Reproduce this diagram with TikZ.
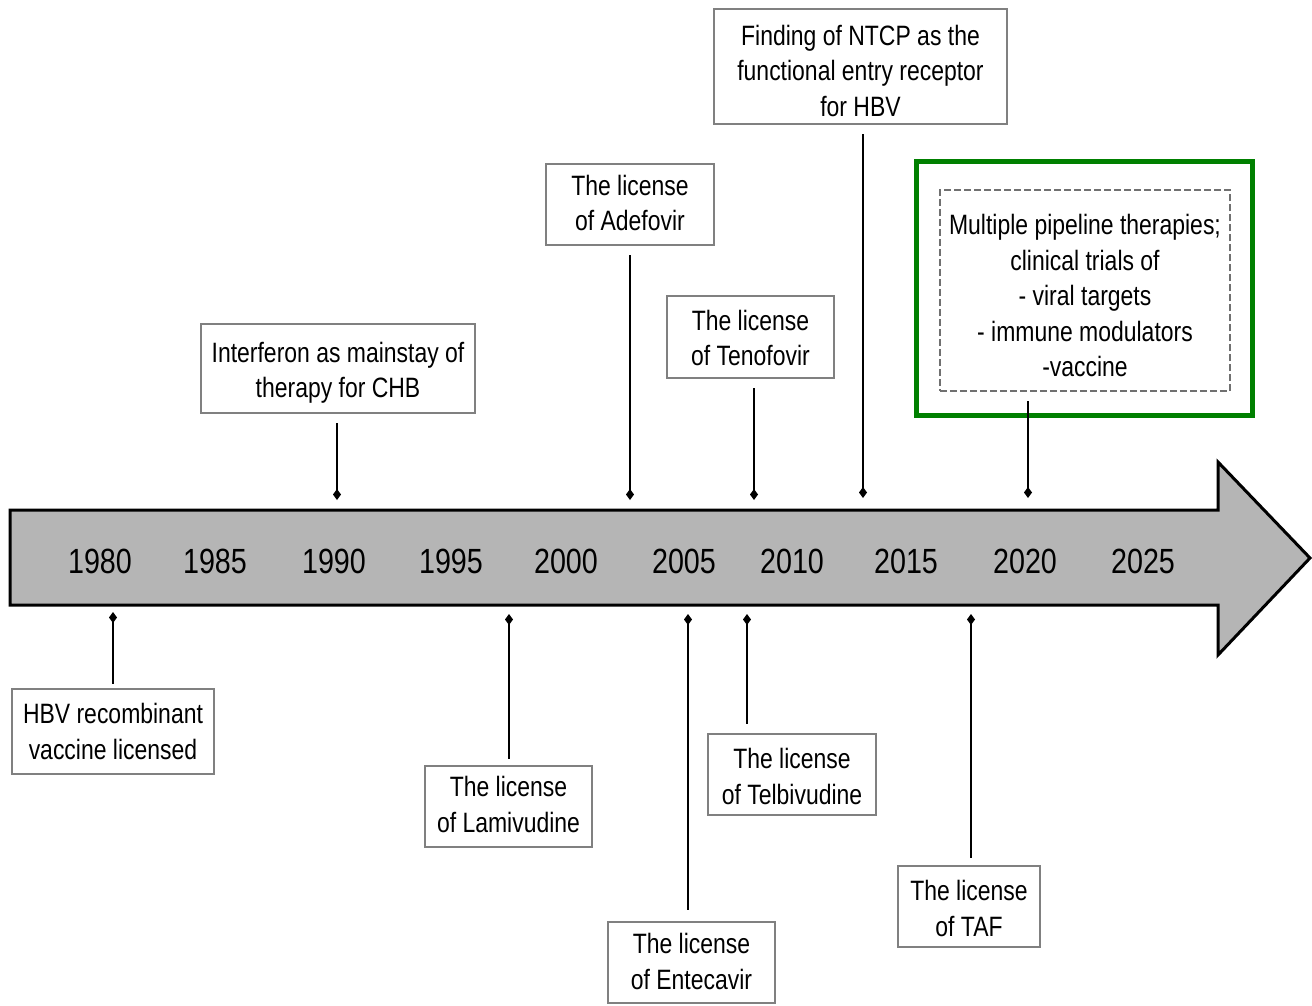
\documentclass[tikz,border=0pt]{standalone}
\usepackage{fontspec}
\setmainfont{Liberation Sans}[FakeStretch=0.82]
\usetikzlibrary{arrows.meta}
\definecolor{boxgray}{HTML}{808080}
\definecolor{dashgray}{HTML}{707070}
\definecolor{barfill}{HTML}{B5B5B5}
\definecolor{grn}{HTML}{008000}
\begin{document}
\begin{tikzpicture}[x=1pt,y=-1pt,
  evbox/.style={draw=boxgray,line width=2.5pt,inner sep=0pt},
  evtext/.style={inner sep=0pt,align=center,font=\fontsize{28}{35.5}\selectfont,text=black},
  conn/.style={line width=2.7pt,-{Diamond[length=11pt,width=8pt]},shorten <=9pt},
  year/.style={font=\fontsize{35}{40}\selectfont,inner sep=0pt}]
\useasboundingbox (0,0) rectangle (1312,1005);
% timeline bar
\draw[line width=3pt,fill=barfill,line join=miter]
  (10,510) -- (1218,510) -- (1218,462) -- (1310,558) -- (1218,655) -- (1218,605) -- (10,605) -- cycle;
\foreach \yr/\xx in {1980/100,1985/215,1990/334,1995/451,2000/566,2005/684,2010/792,2015/906,2020/1025,2025/1143}
  \node[year] (y\yr) at (\xx,561) {\yr};
% boxes above
\node[evbox,minimum width=293pt,minimum height=115pt] (ntcp) at (860.5,66.5) {};
\node[evtext] (ntcpT) at ([yshift=-4pt]ntcp.center) {Finding of NTCP as the\\functional entry receptor\\for HBV};
\node[evbox,minimum width=168pt,minimum height=81pt] (adef) at (630,204.5) {};
\node[evtext] (adefT) at ([yshift=1.5pt]adef.center) {The license\\of Adefovir};
\node[evbox,minimum width=274pt,minimum height=89pt] (ifn) at (338,368.5) {};
\node[evtext] (ifnT) at ([yshift=-4.5pt]ifn.center) {Interferon as mainstay of\\therapy for CHB};
\node[evbox,minimum width=167pt,minimum height=82pt] (teno) at (750.5,337) {};
\node[evtext] (tenoT) at ([yshift=-1pt]teno.center) {The license\\of Tenofovir};
\node[draw=grn,line width=5pt,minimum width=336pt,minimum height=254pt,inner sep=0pt] (green) at (1084,288) {};
\node[evbox,draw=dashgray,dash pattern=on 7pt off 3pt,minimum width=290pt,minimum height=201pt] (pipe) at (1085,290.5) {};
\node[evtext] (pipeT) at ([yshift=-5pt]pipe.center) {Multiple pipeline therapies;\\clinical trials of\\- viral targets\\- immune modulators\\-vaccine};
% boxes below
\node[evbox,minimum width=202pt,minimum height=85pt] (hbv) at (113,731.5) {};
\node[evtext] (hbvT) at (hbv.center) {HBV recombinant\\vaccine licensed};
\node[evbox,minimum width=167pt,minimum height=81pt] (lami) at (508.5,806.5) {};
\node[evtext] (lamiT) at ([yshift=2pt]lami.center) {The license\\of Lamivudine};
\node[evbox,minimum width=167pt,minimum height=81pt] (ente) at (691.5,962.5) {};
\node[evtext] (enteT) at ([yshift=1pt]ente.center) {The license\\of Entecavir};
\node[evbox,minimum width=168pt,minimum height=81pt] (telb) at (792,774.5) {};
\node[evtext] (telbT) at ([yshift=-2pt]telb.center) {The license\\of Telbivudine};
\node[evbox,minimum width=142pt,minimum height=81pt] (taf) at (969,906.5) {};
\node[evtext] (tafT) at ([yshift=-2pt]taf.center) {The license\\of TAF};
% tick points
\coordinate (tifn) at (337,500);
\coordinate (tadef) at (630,500);
\coordinate (tteno) at (754,500);
\coordinate (tntcp) at (863,498);
\coordinate (tpipe) at (1028,498);
\coordinate (thbv) at (113,612);
\coordinate (tlami) at (509,614);
\coordinate (tente) at (688,614);
\coordinate (ttelb) at (747,614);
\coordinate (ttaf) at (971,614);
% connectors
\draw[conn] (ifn.south -| tifn) -- (tifn);
\draw[conn] (adef.south -| tadef) -- (tadef);
\draw[conn] (teno.south -| tteno) -- (tteno);
\draw[conn] (ntcp.south -| tntcp) -- (tntcp);
\draw[conn] (pipe.south -| tpipe) -- (tpipe);
\draw[conn,shorten <=4pt] (hbv.north -| thbv) -- (thbv);
\draw[conn,shorten <=6pt] (lami.north -| tlami) -- (tlami);
\draw[conn,shorten <=11pt] (ente.north -| tente) -- (tente);
\draw[conn] (telb.north -| ttelb) -- (ttelb);
\draw[conn,shorten <=7pt] (taf.north -| ttaf) -- (ttaf);
\end{tikzpicture}
\end{document}
